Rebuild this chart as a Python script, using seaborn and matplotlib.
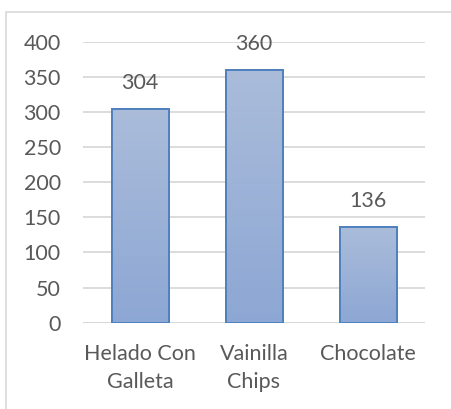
import numpy as np
import pandas as pd
import matplotlib
matplotlib.use("Agg")
import matplotlib.pyplot as plt
from matplotlib.patches import Rectangle
import seaborn as sns

categories = ["Helado Con\nGalleta", "Vainilla\nChips", "Chocolate"]
values = [304, 360, 136]
yticks = [0, 50, 100, 150, 200, 250, 300, 350, 400]

sns.set_theme(style="white")
plt.rcParams["font.family"] = ["Lato", "DejaVu Sans"]

TEXT = "#595959"
GRID = "#d9d9d9"
EDGE = "#4f81bd"
TOP_C = np.array([170, 188, 218]) / 255
BOT_C = np.array([141, 167, 212]) / 255
FS = 15.5

W, H = 451, 409
fig = plt.figure(figsize=(W / 100, H / 100), dpi=100)
fig.patch.set_facecolor("white")

# chart frame
fig.patches.append(Rectangle((6 / W, -0.05), 1.2, 1 - 12 / H + 0.05,
                             transform=fig.transFigure, fill=False,
                             edgecolor=GRID, linewidth=1.2, zorder=0))

ax = fig.add_axes([83 / W, 1 - 322.7 / H, (425 - 83) / W, (322.7 - 41.7) / H])
df = pd.DataFrame({"cat": categories, "val": values})
sns.barplot(data=df, x="cat", y="val", ax=ax, width=0.5,
            color=BOT_C, edgecolor=EDGE, linewidth=1.4, zorder=2)

# vertical gradient fill inside each bar
grad = np.linspace(0, 1, 256)[:, None, None]
img = TOP_C * (1 - grad) + BOT_C * grad
for p in list(ax.patches):
    x0, w, h = p.get_x(), p.get_width(), p.get_height()
    im = ax.imshow(img, extent=(x0, x0 + w, 0, h), origin="upper",
                   aspect="auto", zorder=2.5, interpolation="bilinear")
    im.set_clip_path(p)
    ax.add_patch(Rectangle((x0, 0), w, h, fill=False, edgecolor=EDGE,
                           linewidth=1.4, zorder=3))
    ax.annotate(f"{h:.0f}", (x0 + w / 2, h), xytext=(0, 18.5),
                textcoords="offset points", ha="center", va="center",
                fontsize=FS, color=TEXT)
ax.set_xlim(-0.5, len(categories) - 0.5)
ax.set_ylim(0, 400)

ax.set_yticks(yticks)
ax.yaxis.grid(True, color=GRID, linewidth=1.3)
ax.set_axisbelow(True)
for s in ax.spines.values():
    s.set_visible(False)
ax.axhline(0, color=GRID, linewidth=1.3, zorder=1)
ax.set_xlabel("")
ax.set_ylabel("")
ax.tick_params(axis="y", length=0, pad=16, labelsize=FS, labelcolor=TEXT)
ax.tick_params(axis="x", length=0, pad=15, labelsize=FS, labelcolor=TEXT)
for t in ax.get_xticklabels():
    t.set_linespacing(1.55)

fig.savefig("out.png", dpi=100, facecolor="white")
